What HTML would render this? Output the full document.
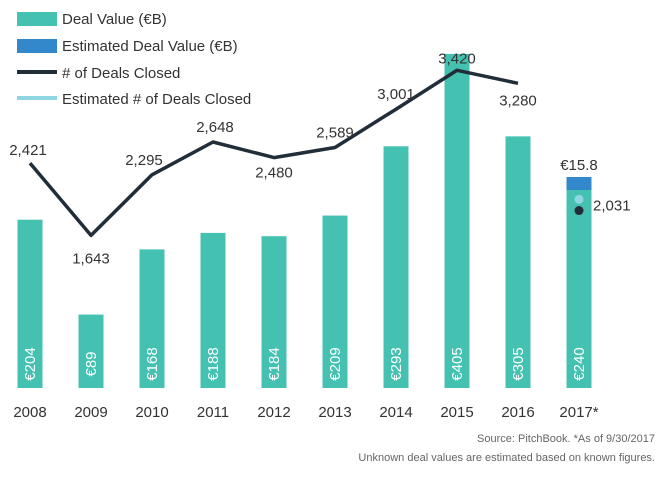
<!DOCTYPE html>
<html><head><meta charset="utf-8"><style>
body{margin:0;background:#fff;}
svg text{font-family:"Liberation Sans",sans-serif;}
</style></head><body>
<svg id="chart" width="671" height="489" xmlns="http://www.w3.org/2000/svg">
<g id="legend">
 <g><rect x="17" y="12" width="40" height="14" fill="#45c1b2"/><text x="62" y="24" font-size="15" fill="#333">Deal Value  (€B)</text></g>
 <g><rect x="17" y="39" width="40" height="14" fill="#3388cc"/><text x="62" y="51" font-size="15" fill="#333">Estimated Deal Value (€B)</text></g>
 <g><line x1="17" y1="72" x2="57" y2="72" stroke="#222d3a" stroke-width="4"/><text x="62" y="78" font-size="15" fill="#333"># of Deals Closed</text></g>
 <g><line x1="17" y1="98" x2="57" y2="98" stroke="#8dd6e2" stroke-width="4"/><text x="62" y="104" font-size="15" fill="#333">Estimated # of Deals Closed</text></g>
</g>
<g id="bars"></g><g id="line"></g><g id="xaxis"></g>
<text x="655" y="442" font-size="11" fill="#666" text-anchor="end">Source: PitchBook. *As of 9/30/2017</text>
<text x="655" y="461" font-size="11" fill="#666" text-anchor="end">Unknown deal values are estimated based on known figures.</text>
</svg>
<script>
const categories=["2008","2009","2010","2011","2012","2013","2014","2015","2016","2017*"];
const dealValues=[204,89,168,188,184,209,293,405,305,240];
const estimatedValues=[0,0,0,0,0,0,0,0,0,15.8];
const dealCounts=[2421,1643,2295,2648,2480,2589,3001,3420,3280];
const estimatedCount=2031;
const actualCount2017=1910;
const countLabels=["2,421","1,643","2,295","2,648","2,480","2,589","3,001","3,420","3,280"];
const NS="http://www.w3.org/2000/svg";
const base=388;
const xPos=i=>30+i*61;
const yVal=v=>base-v*0.825;
const yCnt=v=>base-v*0.0929;
function mk(t,a,p){const e=document.createElementNS(NS,t);for(const k in a)e.setAttribute(k,a[k]);p.appendChild(e);return e;}
const gb=document.getElementById('bars'),gl=document.getElementById('line'),gx=document.getElementById('xaxis');
categories.forEach((c,i)=>{
 const x=xPos(i),top=yVal(dealValues[i]);
 const r=mk('rect',{x:x-12.5,y:top,width:25,height:base-top,fill:'#45c1b2'},gb);
 
 
 if(estimatedValues[i]>0){
  const et=yVal(dealValues[i]+estimatedValues[i]);
  const e=mk('rect',{x:x-12.5,y:et,width:25,height:top-et,fill:'#3388cc'},gb);
  
  
  const el=mk('text',{x:x,y:et-7,'font-size':15,fill:'#333','text-anchor':'middle'},gb);
  el.textContent='€'+estimatedValues[i];
  
  
 }
 const vl=mk('text',{x:0,y:0,'font-size':15,fill:'#fff','text-anchor':'middle',transform:`translate(${x+5},${base-24}) rotate(-90)`},gb);
 vl.textContent='€'+dealValues[i];
 
 
 const tl=mk('text',{x:x,y:417,'font-size':15,fill:'#333','text-anchor':'middle'},gx);
 tl.textContent=c;
 
 
});
const pts=dealCounts.map((v,i)=>xPos(i)+','+yCnt(v)).join(' ');
const pl=mk('polyline',{points:pts,fill:'none',stroke:'#222d3a','stroke-width':3.5,'stroke-linejoin':'round'},gl);


const offs=[[-2,-8],[0,28],[-8,-10],[2,-10],[0,20],[0,-10],[0,-10],[0,-7],[0,22]];
dealCounts.forEach((v,i)=>{
 const t=mk('text',{x:xPos(i)+offs[i][0],y:yCnt(v)+offs[i][1],'font-size':15,fill:'#333','text-anchor':'middle'},gl);
 t.textContent=countLabels[i];
 
 
});
const d1=mk('circle',{cx:xPos(9),cy:yCnt(estimatedCount),r:4.5,fill:'#8dd6e2'},gl);


const d2=mk('circle',{cx:xPos(9),cy:yCnt(actualCount2017),r:4.5,fill:'#222d3a'},gl);


const d3=mk('text',{x:xPos(9)+14,y:yCnt(estimatedCount)+11,'font-size':15,fill:'#333'},gl);
d3.textContent='2,031';


</script>
</body></html>
